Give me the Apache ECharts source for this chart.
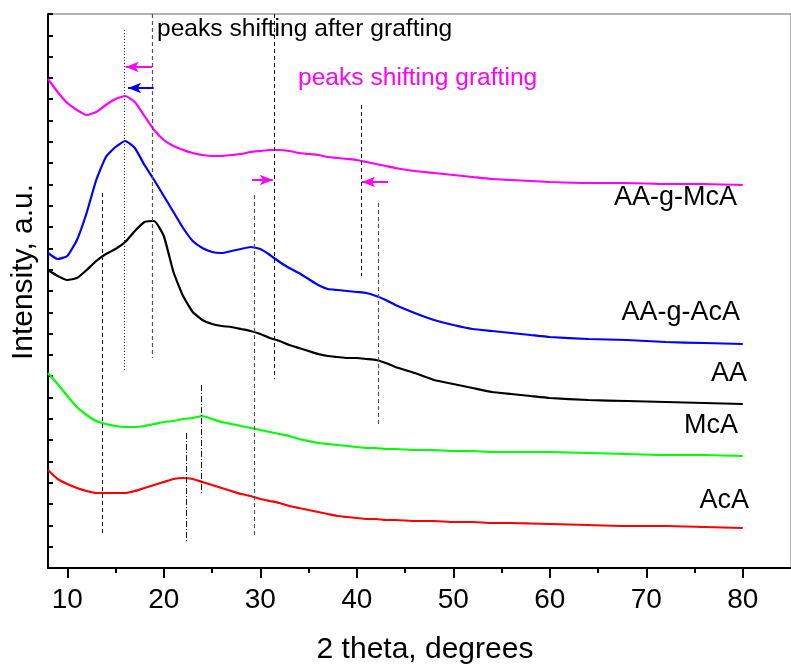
<!DOCTYPE html>
<html>
<head>
<meta charset="utf-8">
<title>XRD patterns</title>
<script src="https://cdn.jsdelivr.net/npm/echarts@6/dist/echarts.min.js"></script>
<style>
  html, body { margin: 0; padding: 0; background: #fff; }
  #chart { width: 791px; height: 666px; }
</style>
</head>
<body>
<div id="chart"></div>
<script>
// 2 theta (degrees), denser where the peaks are
const twoTheta = [
  8, 9, 10, 11, 12, 13, 14, 15, 16, 17,
  18, 19, 20, 21, 22, 23, 24, 25, 26, 27,
  28, 29, 30, 31, 32, 33, 34, 35, 36, 37,
  38, 39, 40, 41, 42, 43, 44,
  46, 48, 50, 52, 54, 56, 58, 60,
  64, 68, 72, 76, 80
];

// intensity, a.u. (curves are stacked with offsets, as in the figure)
const aaGMca = [
  489, 476, 465, 458, 453, 456, 463, 469, 472, 466,
  452, 438, 428, 422, 418, 415, 413, 412, 412, 413,
  414, 416, 417, 418, 418, 417, 415, 414, 413, 411,
  410, 409, 408, 406, 404, 402, 400,
  397, 395, 393, 391, 389, 388, 387, 386,
  385, 385, 384, 384, 383
];
const aaGAca = [
  315, 309, 312, 328, 355, 388, 411, 421, 427, 420,
  403, 388, 372, 356, 340, 327, 320, 316, 315, 317,
  319, 321, 319, 313, 306, 300, 295, 289, 283, 279,
  278, 277, 276, 275, 272, 268, 263,
  255, 248, 243, 239, 237, 235, 233, 231,
  229, 228, 226, 225, 224
];
const aa = [
  298, 292, 288, 290, 298, 307, 314, 319, 326, 337,
  346, 347, 332, 296, 272, 256, 248, 244, 242, 241,
  239, 237, 234, 230, 227, 223, 220, 217, 214, 212,
  211, 210, 210, 209, 208, 205, 201,
  195, 188, 184, 180, 176, 174, 172, 170,
  168, 167, 166, 165, 164
];
const mca = [
  195, 184, 172, 161, 153, 147, 144, 142, 141, 141,
  142, 144, 146, 147, 149, 150, 152, 149, 146, 144,
  142, 140, 138, 136, 134, 132, 129, 127, 125, 124,
  123, 122, 121, 120, 120, 119, 119,
  118, 118, 117, 117, 116, 116, 116, 116,
  115, 114, 113, 113, 112
];
const aca = [
  98, 89, 84, 80, 77, 75, 75, 75, 75, 77,
  80, 83, 86, 89, 90, 89, 86, 83, 80, 77,
  74, 72, 69, 67, 65, 62, 60, 58, 56, 54,
  52, 51, 50, 49, 49, 48, 48,
  47, 47, 46, 46, 45, 45, 44.5, 44,
  43, 42, 42, 41, 40
];

const seriesNames = ['AA-g-McA', 'AA-g-AcA', 'AA', 'McA', 'AcA'];
const seriesColors = ['#ff00ff', '#0000ff', '#000000', '#00ff00', '#ff0000'];
const seriesValues = [aaGMca, aaGAca, aa, mca, aca];

const majorTicks = [10, 20, 30, 40, 50, 60, 70, 80];
const minorTicks = [15, 25, 35, 45, 55, 65, 75];

// peak guide lines: [2theta, from, to, style]
const guideLines = [
  [13.6, 375, 33, 'dashed'],
  [15.95, 538, 198, 'dotted'],
  [18.8, 554, 210, 'dashedGrey'],
  [31.45, 554, 189, 'dashed'],
  [29.4, 373, 30, 'dashedGrey'],
  [40.5, 463, 292, 'dashed'],
  [42.2, 365, 141, 'dashedGrey'],
  [23.9, 183, 75, 'dashDot'],
  [22.35, 135, 26, 'dashDot']
];
// shift arrows: [from 2theta, to 2theta, level, colour]
const shiftArrows = [
  [18.8, 16.05, 501, '#ff00ff'],
  [18.95, 16.3, 480, '#0000ff'],
  [29.15, 31.3, 388, '#ff00ff'],
  [43.25, 40.55, 386, '#ff00ff']
];

const FONT = '"Liberation Sans", Arial, Helvetica, sans-serif';

const dashStyles = {
  dashed: { color: '#111', type: [4, 3], width: 1 },
  dashedGrey: { color: '#555', type: [4, 3], width: 1.2 },
  dotted: { color: '#333', type: [1, 2], width: 1 },
  dashDot: { color: '#111', type: [6, 2, 1, 2], width: 1 }
};

const markLines = guideLines.map(([x, y1, y2, kind]) => [
  { coord: [x, y1], symbol: 'none', lineStyle: dashStyles[kind] },
  { coord: [x, y2], symbol: 'none', lineStyle: dashStyles[kind] }
]).concat(shiftArrows.map(([x1, x2, y, color]) => [
  { coord: [x1, y], symbol: 'none', lineStyle: { color, width: 2, type: 'solid' } },
  { coord: [x2, y], symbol: 'arrow', symbolSize: [8, 13], lineStyle: { color, width: 2, type: 'solid' },
    itemStyle: { color } }
]));

const chart = echarts.init(document.getElementById('chart'));

const option = {
  animation: false,
  grid: {
    left: 48,
    top: 14,
    bottom: 98,
    width: 754.6,
    show: true,
    borderColor: '#666',
    borderWidth: 1
  },
  xAxis: [
    {
      type: 'value',
      min: 8,
      max: 85,
      axisLine: { lineStyle: { color: '#000', width: 2 } },
      axisTick: { customValues: majorTicks, length: 10, lineStyle: { color: '#000', width: 2 } },
      axisLabel: {
        customValues: majorTicks,
        margin: 18,
        fontSize: 28,
        fontFamily: FONT,
        color: '#000'
      },
      splitLine: { show: false }
    },
    {
      // minor ticks
      type: 'value',
      min: 8,
      max: 85,
      position: 'bottom',
      offset: 0,
      axisLine: { show: false },
      axisTick: { customValues: minorTicks, length: 5, lineStyle: { color: '#000', width: 2 } },
      axisLabel: { show: false },
      splitLine: { show: false }
    }
  ],
  yAxis: {
    type: 'value',
    min: 0,
    max: 554,
    interval: 554 / 26,
    axisLine: { show: true, lineStyle: { color: '#000', width: 2 } },
    axisTick: { show: true, inside: true, length: 5, lineStyle: { color: '#000', width: 2 } },
    axisLabel: { show: false },
    splitLine: { show: false }
  },
  graphic: [
    {
      type: 'text', x: 23.5, y: 272, rotation: Math.PI / 2,
      style: { text: 'Intensity, a.u.', fontSize: 30, fontFamily: FONT, fill: '#000', align: 'center', verticalAlign: 'middle' }
    },
    {
      type: 'text', x: 425, y: 650,
      style: { text: '2 theta, degrees', fontSize: 30, fontFamily: FONT, fill: '#000', align: 'center', verticalAlign: 'middle' }
    },
    {
      type: 'text', x: 157, y: 29,
      style: { text: 'peaks shifting after grafting', fontSize: 24.6, fontFamily: FONT, fill: '#000', align: 'left', verticalAlign: 'middle' }
    },
    {
      type: 'text', x: 298, y: 78,
      style: { text: 'peaks shifting grafting', fontSize: 24.6, fontFamily: FONT, fill: '#ff00ff', align: 'left', verticalAlign: 'middle' }
    },
    { type: 'text', x: 737, y: 198, style: { text: 'AA-g-McA', fontSize: 27, fontFamily: FONT, fill: '#000', align: 'right', verticalAlign: 'middle' } },
    { type: 'text', x: 740, y: 313, style: { text: 'AA-g-AcA', fontSize: 27, fontFamily: FONT, fill: '#000', align: 'right', verticalAlign: 'middle' } },
    { type: 'text', x: 747, y: 374, style: { text: 'AA', fontSize: 27, fontFamily: FONT, fill: '#000', align: 'right', verticalAlign: 'middle' } },
    { type: 'text', x: 738, y: 426, style: { text: 'McA', fontSize: 27, fontFamily: FONT, fill: '#000', align: 'right', verticalAlign: 'middle' } },
    { type: 'text', x: 749, y: 501, style: { text: 'AcA', fontSize: 27, fontFamily: FONT, fill: '#000', align: 'right', verticalAlign: 'middle' } }
  ],
  series: seriesNames.map((name, i) => ({
    name,
    type: 'line',
    xAxisIndex: 0,
    data: twoTheta.map((x, j) => [x, seriesValues[i][j]]),
    showSymbol: false,
    smooth: 0.15,
    lineStyle: { color: seriesColors[i], width: 2.2 },
    itemStyle: { color: seriesColors[i] },
    markLine: name === 'AA' ? {
      silent: true,
      animation: false,
      label: { show: false },
      data: markLines
    } : undefined
  }))
};

chart.setOption(option);
</script>
</body>
</html>
